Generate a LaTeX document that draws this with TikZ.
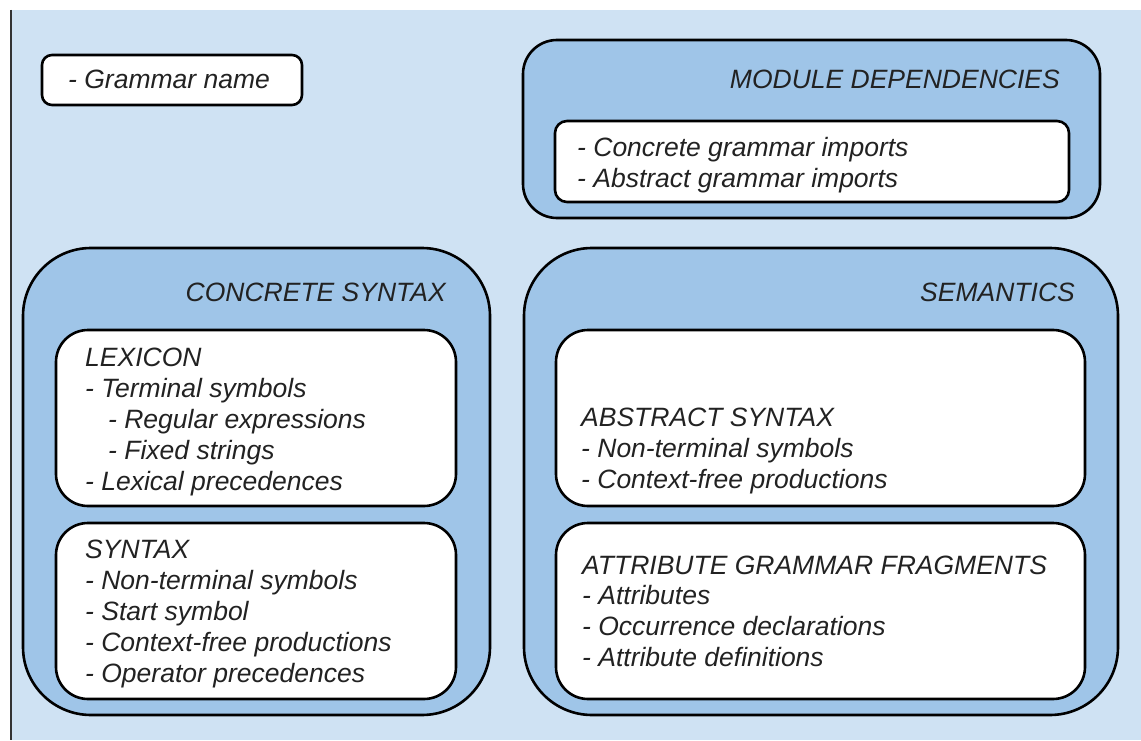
\documentclass[tikz,border=0pt]{standalone}
\usepackage{fontspec}
\setmainfont{Liberation Sans}
\usepackage{tikz}
\definecolor{paleblue}{HTML}{CFE2F3}
\definecolor{boxblue}{HTML}{9FC5E8}
\definecolor{inkgray}{HTML}{222222}
\tikzset{
  outerbox/.style = {rectangle, draw=black, fill=boxblue, line width=2.6pt, rounded corners=68pt, inner sep=0pt},
  innerbox/.style = {rectangle, draw=black, fill=white, line width=2.6pt, rounded corners=32pt, inner sep=0pt},
  boxtext/.style = {inner sep=0pt, align=left, anchor=base west, text=inkgray, font=\fontsize{26.5}{30.8}\selectfont\itshape},
  headtext/.style = {boxtext, anchor=base east}
}

\begin{document}
\begin{tikzpicture}[x=1pt, y=-1pt]
    % page and left rule
    \fill[white] (0,0) rectangle (1141,740);
    \fill[paleblue] (10,10) rectangle (1141,740);
    \draw[line width=2pt, black!80] (10.5,10) -- (10.5,740);

    % grammar name
    \node[innerbox, rounded corners=10pt, minimum width=260pt, minimum height=50pt] (gname) at (172,80) {};
    \node[boxtext] (gnametxt) at (68,89) {- Grammar name};

    % module dependencies (base anchor = last line)
    \node[outerbox, rounded corners=34pt, minimum width=577pt, minimum height=178pt] (moddeps) at (811.5,129) {};
    \node[headtext] (moddepstxt) at (1060,89) {MODULE DEPENDENCIES};
    \node[innerbox, rounded corners=12pt, minimum width=514pt, minimum height=81pt] (imports) at (812,161.5) {};
    \node[boxtext, font=\fontsize{26.5}{32}\selectfont\itshape] (importstxt) at (577,188)
        {- Concrete grammar imports\\- Abstract grammar imports};

    % concrete syntax
    \node[outerbox, minimum width=467pt, minimum height=467pt] (concrete) at (256.5,481.5) {};
    \node[headtext] (concretetxt) at (446,301) {CONCRETE SYNTAX};
    \node[innerbox, minimum width=400pt, minimum height=176pt] (lexicon) at (256,418) {};
    \node[boxtext] (lexicontxt) at (85,490)
        {LEXICON\\- Terminal symbols\\\hspace*{23pt}- Regular expressions\\\hspace*{23pt}- Fixed strings\\- Lexical precedences};
    \node[innerbox, minimum width=400pt, minimum height=176pt] (syntax) at (256,611) {};
    \node[boxtext] (syntaxtxt) at (85,682)
        {SYNTAX\\- Non-terminal symbols\\- Start symbol\\- Context-free productions\\- Operator precedences};

    % semantics
    \node[outerbox, minimum width=594pt, minimum height=467pt] (semantics) at (821,481.5) {};
    \node[headtext] (semanticstxt) at (1075,301) {SEMANTICS};
    \node[innerbox, minimum width=529pt, minimum height=176pt] (abstract) at (820.5,418) {};
    \node[boxtext] (abstracttxt) at (581,488.5)
        {ABSTRACT SYNTAX\\- Non-terminal symbols\\- Context-free productions};
    \node[innerbox, minimum width=529pt, minimum height=176pt] (attrgram) at (820.5,611) {};
    \node[boxtext] (attrgramtxt) at (582,666.5)
        {ATTRIBUTE GRAMMAR FRAGMENTS\\- Attributes\\- Occurrence declarations\\- Attribute definitions};
\end{tikzpicture}
\end{document}
